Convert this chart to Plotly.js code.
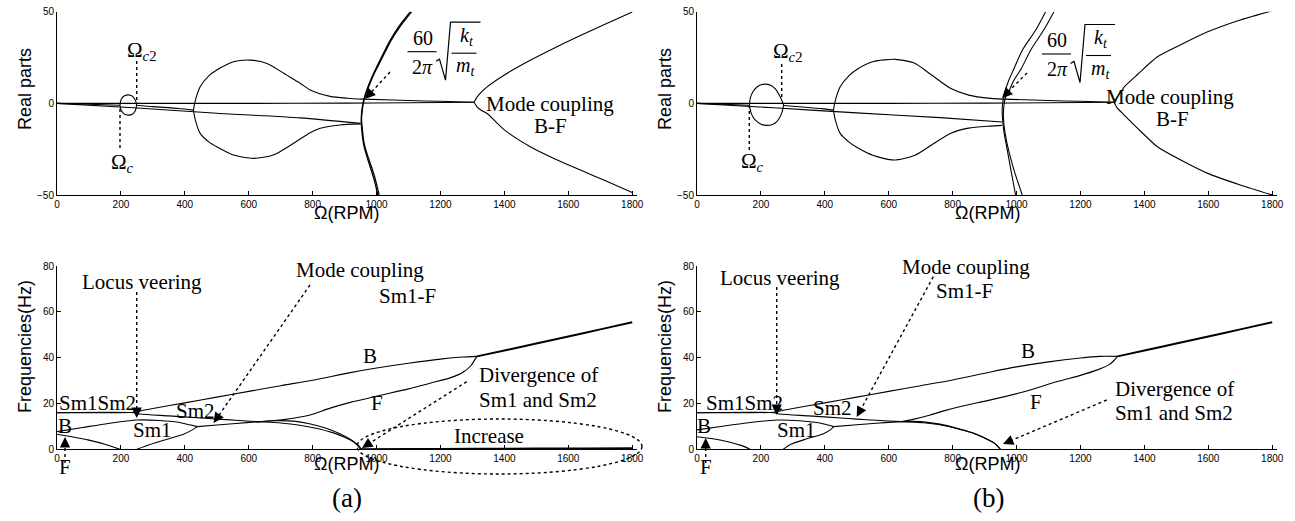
<!DOCTYPE html>
<html><head><meta charset="utf-8">
<script src="https://cdn.plot.ly/plotly-3.0.1.min.js"></script>
<style>html,body{margin:0;padding:0;background:#fff}#chart{width:1295px;height:521px}</style>
</head><body><div id="chart"></div>
<script>
// ---------------- DATA ----------------
// Tick values
const xTickVals = [0, 200, 400, 600, 800, 1000, 1200, 1400, 1600, 1800];
const realTickVals = [-50, 0, 50];
const freqTickVals = [0, 20, 40, 60, 80];

// ---- Real parts, panel (a) ----
const aR1Omega = [0, 300, 600, 900, 1100, 1305];
const aR1Real = [0, 0, 0, 0.1, 0.3, 0.6];
const aR1bOmega = [959, 1050, 1150, 1250, 1305];
const aR1bReal = [2.3, 1.8, 1.3, 0.9, 0.6];
const aR2Omega = [0, 239, 500, 761, 950];
const aR2Real = [0, -2.4, -5.4, -7.9, -10.9];
const aR3Omega = [0, 100, 197];
const aR3Real = [0, -0.5, -1];
const aR3bOmega = [249, 300, 380, 427];
const aR3bReal = [-1, -1.8, -2.8, -3.7];
const aLoopUpOmega = [197, 199, 203, 210, 217, 223, 230, 237, 243, 247, 249];
const aLoopUpReal = [-1, 1.2, 2.8, 4, 4.5, 4.6, 4.4, 3.7, 2.4, 0.8, -1];
const aLoopLowOmega = [249, 247, 243, 237, 230, 223, 216, 209, 203, 199, 197];
const aLoopLowReal = [-1, -3, -4.6, -5.8, -6.3, -6.4, -6.2, -5.6, -4.4, -2.9, -1];
const aBubUpOmega = [427, 432, 448, 475, 500, 552, 604, 657, 719, 761, 792, 855, 910, 959];
const aBubUpReal = [-3.7, 1, 9, 15, 18.2, 22.7, 23.6, 21.8, 15.4, 11, 7.3, 3.8, 2.8, 2.3];
const aBubLowOmega = [427, 432, 448, 475, 500, 552, 615, 677, 740, 792, 824, 886, 950];
const aBubLowReal = [-3.7, -8.5, -16.4, -21, -23.7, -28.2, -30, -28.2, -21.8, -16, -13.6, -11.8, -11.2];
const aVaOmega = [1106, 1070, 1043, 1015, 991, 972, 960, 954, 952, 954, 959, 968, 980, 993, 1004];
const aVbOmega = [1110, 1074, 1046, 1018, 993, 974, 961, 955, 953, 956, 961, 971, 984, 997, 1008];
const aVReal = [50, 42, 34.5, 25, 16.4, 8.5, 2, -4, -9, -15, -21.8, -28, -34.6, -42, -50];
const aBFUpOmega = [1305, 1315, 1330, 1346, 1400, 1481, 1560, 1638, 1720, 1800];
const aBFUpReal = [0.6, 3.5, 6.5, 9, 15.5, 23.5, 30.5, 37, 43.5, 49.8];
const aBFLowOmega = [1305, 1315, 1330, 1346, 1400, 1481, 1560, 1638, 1720, 1800];
const aBFLowReal = [0.6, -2, -4, -5.5, -14.5, -23.7, -30.5, -36.4, -42.5, -48.7];

// ---- Real parts, panel (b) ----
const bR2Omega = [0, 239, 500, 761, 955];
const bR2Real = [0, -2.4, -5.2, -7.8, -10.2];
const bR3Omega = [0, 80, 164];
const bR3Real = [0, -0.5, -1];
const bR3bOmega = [271, 330, 390, 427];
const bR3bReal = [-1.2, -2, -2.9, -3.7];
const bLoopUpOmega = [164, 167, 175, 187, 200, 216, 232, 245, 256, 265, 271];
const bLoopUpReal = [-1, 3, 6.3, 8.8, 10.1, 10.5, 9.8, 7.9, 5, 1.8, -1];
const bLoopLowOmega = [271, 266, 257, 246, 232, 218, 202, 188, 176, 168, 164];
const bLoopLowReal = [-1, -4.8, -8.3, -10.6, -11.8, -12, -11.5, -10, -7.7, -4.5, -1];
const bBubUpOmega = [427, 432, 448, 475, 500, 552, 621, 680, 730, 793, 850, 919, 958];
const bBubUpReal = [-3.7, 1, 9, 15, 18.5, 22.8, 24, 22, 16, 8.2, 4.5, 2.7, 2.3];
const bBubLowOmega = [427, 432, 448, 475, 500, 552, 616, 680, 740, 793, 850, 919, 955];
const bBubLowReal = [-3.7, -8.5, -16.4, -21, -24, -28.5, -30.9, -28.5, -22, -16.4, -13.5, -12.4, -12];
const bVaOmega = [1091, 1060, 1018, 992, 976, 965, 958, 955, 956, 960, 971, 983, 997];
const bVaReal = [50, 40, 29, 19, 12.7, 7, 1.8, -3, -8, -15, -25.5, -37, -50];
const bVbOmega = [1117, 1085, 1044, 1015, 992, 977, 966, 960, 959, 963, 975, 993, 1018];
const bVbReal = [50, 40, 29, 19, 12.7, 7, 3.6, -2, -8, -15, -25.5, -37, -50];
const bBFUpOmega = [1305, 1315, 1330, 1337, 1380, 1441, 1520, 1598, 1700, 1800];
const bBFUpReal = [0.6, 3.5, 7, 9, 16, 25.4, 32.5, 39, 45.5, 50.5];
const bBFLowOmega = [1305, 1315, 1337, 1390, 1441, 1520, 1598, 1700, 1800];
const bBFLowReal = [0.6, -2.5, -6.4, -15.5, -23.7, -31.5, -38.2, -44.5, -50];

// ---- Frequencies, panel (a) ----
const aBUpOmega = [0, 150, 240, 260, 300, 400, 500, 600, 700, 800, 918, 1000, 1100, 1200, 1270, 1314];
const aBUpFreq = [16, 16, 16.2, 16.8, 17.8, 20.3, 22.8, 25.3, 27.8, 30.2, 33.5, 35.5, 37.6, 39.4, 40.3, 40.6];
const aSm2Omega = [0, 240, 260, 350, 450, 500, 560, 625, 700, 760, 810, 860, 900, 930, 950];
const aSm2Freq = [16, 16, 15.4, 14.6, 13.7, 13.2, 12.7, 12.1, 11.5, 10.5, 9.2, 7.4, 5.3, 3.0, 0];
const aBLowOmega = [0, 80, 160, 250, 320, 380, 415, 440];
const aBLowFreq = [7.7, 9.5, 11.3, 12.8, 12.6, 11.8, 10.7, 9.9];
const aSm1Omega = [440, 500, 560, 625, 680, 740, 790, 840, 885, 920, 945, 952];
const aSm1Freq = [9.9, 10.6, 11.3, 12, 12.5, 12.3, 11.2, 9.3, 6.8, 4.2, 1.5, 0];
const aFOmega = [625, 680, 740, 792, 855, 918, 1010, 1100, 1168, 1230, 1272, 1295, 1314];
const aFFreq = [12, 12.6, 13.6, 15, 18, 20.5, 23.5, 26.4, 28.9, 31.2, 33.8, 36.5, 40.6];
const aF0Omega = [0, 50, 100, 150, 197];
const aF0Freq = [6.6, 5.4, 4.0, 2.2, 0];
const aSm1RiseOmega = [250, 291, 344, 396, 425, 440];
const aSm1RiseFreq = [0, 2.1, 4.4, 6.6, 8.6, 9.9];
const aBFOmega = [1314, 1400, 1500, 1600, 1700, 1800];
const aBFFreq = [40.6, 43.2, 46.2, 49.3, 52.4, 55.5];
const aIncOmega = [950, 1100, 1300, 1500, 1650, 1800];
const aIncFreq = [0, 0.1, 0.2, 0.3, 0.4, 0.5];

// ---- Frequencies, panel (b) ----
const bBUpOmega = [0, 150, 240, 260, 300, 400, 500, 600, 700, 800, 919, 1000, 1100, 1200, 1260, 1316];
const bBUpFreq = [16, 16, 16.2, 16.8, 17.8, 20.3, 22.8, 25.3, 27.8, 30.3, 33.8, 36, 38.2, 39.9, 40.6, 40.6];
const bSm2Omega = [0, 240, 260, 350, 450, 500, 560, 640, 710, 760, 814, 860, 898, 930, 950];
const bSm2Freq = [16, 16, 15.4, 14.6, 13.7, 13.2, 12.7, 12.1, 11.6, 10.7, 9.0, 7.2, 5.0, 2.7, 0];
const bBLowOmega = [0, 80, 160, 250, 320, 380, 410, 428];
const bBLowFreq = [8.5, 10.1, 11.6, 12.8, 12.5, 11.6, 10.6, 9.9];
const bSm1Omega = [428, 500, 560, 640, 700, 760, 814, 860, 898, 930, 950];
const bSm1Freq = [9.9, 10.7, 11.4, 12.1, 12.1, 11.0, 9.2, 7.3, 5.2, 2.8, 0];
const bFOmega = [640, 679, 730, 772, 825, 919, 1020, 1128, 1200, 1253, 1290, 1305, 1316];
const bFFreq = [12.1, 13.2, 15, 16.8, 18.7, 21.6, 25, 29.6, 32.3, 34.7, 37, 38.8, 40.6];
const bF0Omega = [0, 50, 100, 140, 166];
const bF0Freq = [5.5, 4.6, 3.2, 1.6, 0];
const bSm1RiseOmega = [270, 292, 344, 396, 420, 428];
const bSm1RiseFreq = [0, 2.1, 4.6, 6.8, 8.8, 9.9];
const bBFOmega = [1316, 1400, 1500, 1600, 1700, 1800];
const bBFFreq = [40.6, 43.2, 46.2, 49.3, 52.4, 55.5];

// ---------------- RENDERING ----------------
const W = 1295, H = 521;
const X = p => p / W, Y = p => 1 - p / H;
const SERIF = '"Liberation Serif","Times New Roman",serif';
const SANS = '"Liberation Sans",Arial,Helvetica,sans-serif';

const traces = [];
function curve(x, y, xa, ya, w) {
  traces.push({type: 'scatter', mode: 'lines', x: x, y: y, xaxis: xa, yaxis: ya,
    line: {color: '#000', width: w || 1.1, shape: 'spline', smoothing: 0.7},
    hoverinfo: 'skip', showlegend: false});
}
// (a) real parts
curve(aR1Omega, aR1Real, 'x', 'y');
curve(aR1bOmega, aR1bReal, 'x', 'y');
curve(aR2Omega, aR2Real, 'x', 'y');
curve(aR3Omega, aR3Real, 'x', 'y');
curve(aR3bOmega, aR3bReal, 'x', 'y');
curve(aLoopUpOmega, aLoopUpReal, 'x', 'y');
curve(aLoopLowOmega, aLoopLowReal, 'x', 'y');
curve(aBubUpOmega, aBubUpReal, 'x', 'y');
curve(aBubLowOmega, aBubLowReal, 'x', 'y');
curve(aVaOmega, aVReal, 'x', 'y', 1.3);
curve(aVbOmega, aVReal, 'x', 'y', 1.3);
curve(aBFUpOmega, aBFUpReal, 'x', 'y');
curve(aBFLowOmega, aBFLowReal, 'x', 'y');
// (b) real parts
curve(aR1Omega, aR1Real, 'x3', 'y3');
curve(aR1bOmega, aR1bReal, 'x3', 'y3');
curve(bR2Omega, bR2Real, 'x3', 'y3');
curve(bR3Omega, bR3Real, 'x3', 'y3');
curve(bR3bOmega, bR3bReal, 'x3', 'y3');
curve(bLoopUpOmega, bLoopUpReal, 'x3', 'y3');
curve(bLoopLowOmega, bLoopLowReal, 'x3', 'y3');
curve(bBubUpOmega, bBubUpReal, 'x3', 'y3');
curve(bBubLowOmega, bBubLowReal, 'x3', 'y3');
curve(bVaOmega, bVaReal, 'x3', 'y3');
curve(bVbOmega, bVbReal, 'x3', 'y3');
curve(bBFUpOmega, bBFUpReal, 'x3', 'y3');
curve(bBFLowOmega, bBFLowReal, 'x3', 'y3');
// (a) frequencies
curve(aBUpOmega, aBUpFreq, 'x2', 'y2');
curve(aSm2Omega, aSm2Freq, 'x2', 'y2');
curve(aBLowOmega, aBLowFreq, 'x2', 'y2');
curve(aSm1Omega, aSm1Freq, 'x2', 'y2');
curve(aFOmega, aFFreq, 'x2', 'y2');
curve(aF0Omega, aF0Freq, 'x2', 'y2');
curve(aSm1RiseOmega, aSm1RiseFreq, 'x2', 'y2');
curve(aBFOmega, aBFFreq, 'x2', 'y2', 2);
curve(aIncOmega, aIncFreq, 'x2', 'y2', 2);
// (b) frequencies
curve(bBUpOmega, bBUpFreq, 'x4', 'y4');
curve(bSm2Omega, bSm2Freq, 'x4', 'y4');
curve(bBLowOmega, bBLowFreq, 'x4', 'y4');
curve(bSm1Omega, bSm1Freq, 'x4', 'y4');
curve(bFOmega, bFFreq, 'x4', 'y4');
curve(bF0Omega, bF0Freq, 'x4', 'y4');
curve(bSm1RiseOmega, bSm1RiseFreq, 'x4', 'y4');
curve(bBFOmega, bBFFreq, 'x4', 'y4', 2);

const axBase = {showline: true, linecolor: '#000', linewidth: 1, ticks: 'inside', ticklen: 4,
  tickcolor: '#000', tickwidth: 1, showgrid: false, zeroline: false, mirror: false,
  tickfont: {family: SANS, size: 10, color: '#000'}, fixedrange: true};
const leftDom = [X(57), X(637)], rightDom = [X(697), X(1277)];
const topDom = [Y(195), Y(11.7)], botDom = [Y(449.3), Y(266.2)];
const xa = d => Object.assign({}, axBase, {domain: d, range: [0, 1815], tickmode: 'array', tickvals: xTickVals});
const ya = (d, r, t) => Object.assign({}, axBase, {domain: d, range: r, tickmode: 'array', tickvals: t});

const shapes = [];
const annotations = [];
function txt(t, x, y, size, opts) {
  annotations.push(Object.assign({text: t, x: X(x), y: Y(y), xref: 'paper', yref: 'paper',
    showarrow: false, xanchor: 'center', yanchor: 'middle',
    font: {family: SERIF, size: size || 21, color: '#000'}}, opts || {}));
}
function seg(x0, y0, x1, y1, dash, w) {
  shapes.push({type: 'line', xref: 'paper', yref: 'paper', x0: X(x0), y0: Y(y0), x1: X(x1), y1: Y(y1),
    line: {color: '#000', width: w || 1.4, dash: dash || 'solid'}});
}
function dottedArrow(tx, ty, hx, hy, head) {
  const dx = tx - hx, dy = ty - hy, L = Math.hypot(dx, dy);
  const ux = dx / L, uy = dy / L;
  if (head) {
    seg(tx, ty, hx + ux * 8, hy + uy * 8, 'dot', 1.4);
    annotations.push({x: X(hx), y: Y(hy), xref: 'paper', yref: 'paper', ax: ux * 11, ay: uy * 11,
      showarrow: true, arrowhead: 2, arrowsize: 1.6, arrowwidth: 1.3, arrowcolor: '#000', text: ''});
  } else {
    seg(tx, ty, hx, hy, 'dot', 1.4);
  }
}
function path(pts) {
  shapes.push({type: 'path', xref: 'paper', yref: 'paper',
    path: pts.map((p, i) => (i ? 'L' : 'M') + X(p[0]) + ',' + Y(p[1])).join(' '),
    line: {color: '#000', width: 1.2}});
}
function formula(cx, cy) { // cx, cy: centre of the "60/2π" fraction bar
  txt('60', cx, cy - 14, 20);
  txt('2<i>π</i>', cx, cy + 15, 20);
  seg(cx - 15, cy, cx + 14, cy, 'solid', 1.1);
  path([[cx + 13.5, cy + 9.5], [cx + 17, cy + 7.5], [cx + 23, cy + 28.5], [cx + 28, cy - 29.5], [cx + 58, cy - 29.5]]);
  txt('<i>k<sub>t</sub></i>', cx + 44, cy - 15, 20);
  seg(cx + 29, cy + 1.5, cx + 54, cy + 1.5, 'solid', 1.1);
  txt('<i>m<sub>t</sub></i>', cx + 43, cy + 15, 20);
}

// Axis titles
const axTitle = (t, x, y, rot) => txt(t, x, y, 18, {font: {family: SANS, size: 18, color: '#000'}, textangle: rot || 0});
axTitle('Real parts', 25, 89, -90);
axTitle('Frequencies(Hz)', 25, 347, -90);
axTitle('Real parts', 665, 89, -90);
axTitle('Frequencies(Hz)', 665, 347, -90);
axTitle('Ω(RPM)', 347, 213);
axTitle('Ω(RPM)', 347, 464);
axTitle('Ω(RPM)', 987, 213);
axTitle('Ω(RPM)', 987, 464);
txt('(a)', 347, 498, 27);
txt('(b)', 988, 498, 27);

// ---- top (a) annotations
txt('Ω<sub><i>c</i>2</sub>', 141, 51, 21);
txt('Ω<sub><i>c</i></sub>', 122, 163, 21);
dottedArrow(136.7, 61, 136.7, 103, false);
dottedArrow(120, 148, 120, 107, false);
formula(422.5, 51.7);
dottedArrow(390, 72, 365, 99, true);
txt('Mode coupling', 550, 104, 21);
txt('B-F', 550, 126, 21);
// ---- top (b) annotations
txt('Ω<sub><i>c</i>2</sub>', 787, 52, 21);
txt('Ω<sub><i>c</i></sub>', 752, 162, 21);
dottedArrow(781.7, 64, 781.7, 100, false);
dottedArrow(749.3, 150, 749.3, 107, false);
formula(1057, 54);
dottedArrow(1027, 73, 1002, 98, true);
txt('Mode coupling', 1170, 97, 21);
txt('B-F', 1172, 119, 21);

// ---- bottom (a) annotations
txt('Locus veering', 142, 282, 21);
dottedArrow(136.7, 292, 136.7, 418, true);
txt('Mode coupling', 360, 270, 21);
txt('Sm1-F', 407, 296, 21);
dottedArrow(310, 285, 213.5, 423, true);
txt('Sm1Sm2', 57, 403, 21, {xanchor: 'left'});
txt('B', 65, 426, 21);
txt('Sm2', 195, 411, 21);
txt('Sm1', 152.5, 430, 21);
txt('B', 370, 356, 21);
txt('F', 377.5, 403, 21);
txt('F', 65, 467, 21);
dottedArrow(65, 463, 65, 437, true);
txt('Divergence of', 538, 375, 21);
txt('Sm1 and Sm2', 538, 400, 21);
dottedArrow(466.7, 381.7, 362, 448, true);
txt('Increase', 489, 436, 21);
shapes.push({type: 'circle', xref: 'paper', yref: 'paper', x0: X(357), x1: X(642), y0: Y(474), y1: Y(419),
  line: {color: '#000', width: 1.4, dash: 'dot'}});

// ---- bottom (b) annotations
txt('Locus veering', 780, 278, 21);
dottedArrow(776.7, 287, 776.7, 415, true);
txt('Mode coupling', 966, 267, 21);
txt('Sm1-F', 964, 291, 21);
dottedArrow(933.3, 276.7, 856.7, 417, true);
txt('Sm1Sm2', 704, 403, 21, {xanchor: 'left'});
txt('B', 704, 426, 21);
txt('Sm2', 832, 408, 21);
txt('Sm1', 796, 430, 21);
txt('B', 1028, 351, 21);
txt('F', 1036, 402, 21);
txt('F', 706, 467, 21);
dottedArrow(705.7, 463, 705.7, 438, true);
txt('Divergence of', 1174, 389, 21);
txt('Sm1 and Sm2', 1174, 413, 21);
dottedArrow(1106.7, 400, 1003, 444, true);

const layout = {
  width: W, height: H, margin: {l: 0, r: 0, t: 0, b: 0},
  paper_bgcolor: '#fff', plot_bgcolor: 'rgba(0,0,0,0)', showlegend: false, hovermode: false,
  xaxis: Object.assign(xa(leftDom), {anchor: 'y'}),
  yaxis: Object.assign(ya(topDom, [-50, 50], realTickVals), {anchor: 'x'}),
  xaxis2: Object.assign(xa(leftDom), {anchor: 'y2'}),
  yaxis2: Object.assign(ya(botDom, [0, 80], freqTickVals), {anchor: 'x2'}),
  xaxis3: Object.assign(xa(rightDom), {anchor: 'y3'}),
  yaxis3: Object.assign(ya(topDom, [-50, 50], realTickVals), {anchor: 'x3'}),
  xaxis4: Object.assign(xa(rightDom), {anchor: 'y4'}),
  yaxis4: Object.assign(ya(botDom, [0, 80], freqTickVals), {anchor: 'x4'}),
  shapes: shapes, annotations: annotations
};
Plotly.newPlot('chart', traces, layout, {staticPlot: true, displayModeBar: false});
</script></body></html>
